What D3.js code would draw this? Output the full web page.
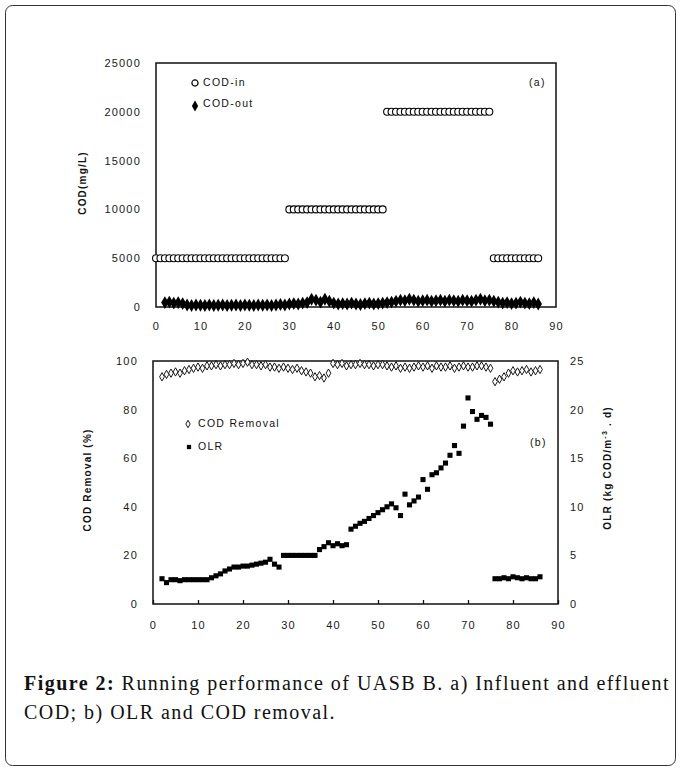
<!DOCTYPE html>
<html>
<head>
<meta charset="utf-8">
<script src="https://cdn.jsdelivr.net/npm/d3@7"></script>
<style>
  body { margin: 0; background: #fff; }
  .tick text { font-family: "Liberation Sans", Arial, sans-serif; font-size: 11px; fill: #1a1a1a; letter-spacing: 1.2px; }
  .ax-title { font-family: "Liberation Sans", Arial, sans-serif; font-size: 10px; font-weight: bold; fill: #111; letter-spacing: 1.2px; }
  .legend { font-family: "Liberation Sans", Arial, sans-serif; font-size: 10.5px; fill: #111; letter-spacing: 1.3px; }
  .caption { font-family: "Liberation Serif", "Times New Roman", serif; font-size: 20px; fill: #111; }
</style>
</head>
<body>
<svg id="fig" width="680" height="773"></svg>
<script>
// ---- data ----
// panel (a): influent COD, days 0..86
var daysIn = [0,1,2,3,4,5,6,7,8,9,10,11,12,13,14,15,16,17,18,19,20,21,22,23,24,25,26,27,28,29,
  30,31,32,33,34,35,36,37,38,39,40,41,42,43,44,45,46,47,48,49,50,51,52,53,54,55,56,57,58,59,
  60,61,62,63,64,65,66,67,68,69,70,71,72,73,74,75,76,77,78,79,80,81,82,83,84,85,86];
var codIn = [5000,5000,5000,5000,5000,5000,5000,5000,5000,5000,5000,5000,5000,5000,5000,
  5000,5000,5000,5000,5000,5000,5000,5000,5000,5000,5000,5000,5000,5000,5000,
  10000,10000,10000,10000,10000,10000,10000,10000,10000,10000,10000,
  10000,10000,10000,10000,10000,10000,10000,10000,10000,10000,10000,
  20000,20000,20000,20000,20000,20000,20000,20000,20000,20000,20000,20000,
  20000,20000,20000,20000,20000,20000,20000,20000,20000,20000,20000,20000,
  5000,5000,5000,5000,5000,5000,5000,5000,5000,5000,5000];

// days 2..86 for effluent COD, removal and OLR
var days = [2,3,4,5,6,7,8,9,10,11,12,13,14,15,16,17,18,19,20,21,22,23,24,25,26,27,28,29,
  30,31,32,33,34,35,36,37,38,39,40,41,42,43,44,45,46,47,48,49,50,51,52,53,54,55,56,57,58,59,
  60,61,62,63,64,65,66,67,68,69,70,71,72,73,74,75,76,77,78,79,80,81,82,83,84,85,86];
var codOut = [450,500,400,450,350,
  200,150,200,180,150,200,150,180,200,150,180,200,150,200,180,150,200,180,200,150,200,250,200,
  300,350,300,400,450,
  800,700,500,800,600,
  400,300,350,300,400,300,250,350,400,300,350,400,450,
  500,600,700,650,800,700,600,650,700,600,650,700,600,700,650,600,700,650,600,700,800,650,700,600,
  500,400,450,350,400,500,400,350,450,300];
var removal = [93.5,94.5,95,95.5,95,96,96.5,97,97.5,97,
  98,98,98.5,98,98.5,98.5,99,98.5,99,99.5,
  98.5,98.5,98,98.5,97.5,97.5,97,97.5,97,96.5,
  97,96,95.5,95,93.5,94,93,95,99,98.5,
  99,98,98.5,98.5,99,98.5,98.5,98,98.5,98.5,
  98,97.5,98,97,97.5,97,97.5,98,97.5,98,
  97,98,97.5,97.5,98,97,97.5,98,97.5,97.5,
  98,98,97.5,97,91.5,92.5,93.5,95,96,95.5,
  96,96.5,95.5,96,96.5];
var olr = [2.6,2.2,2.5,2.5,2.4,2.5,2.5,2.5,2.5,2.5,
  2.5,2.7,2.9,3.1,3.4,3.6,3.8,3.8,3.9,3.9,
  4.0,4.1,4.2,4.3,4.6,4.1,3.8,5.0,5.0,5.0,
  5.0,5.0,5.0,5.0,5.0,5.6,5.9,6.3,6.0,6.2,
  6.0,6.1,7.7,8.0,8.3,8.5,8.8,9.1,9.4,9.7,
  10.0,10.3,9.9,9.1,11.3,10.2,10.6,11.0,12.8,11.8,
  13.3,13.5,14.0,14.5,15.3,16.3,15.5,18.3,21.2,19.8,
  19.0,19.4,19.2,18.5,2.6,2.6,2.7,2.6,2.8,2.7,
  2.6,2.7,2.6,2.6,2.8];

var xTicks = [0,10,20,30,40,50,60,70,80,90];
var codTicks = [0,5000,10000,15000,20000,25000];
var remTicks = [0,20,40,60,80,100];
var olrTicks = [0,5,10,15,20,25];

var svg = d3.select('#fig');
var plain = d3.format('d');

// outer frame of the figure box
svg.append('rect')
    .attr('x', 5.5).attr('y', 5.5)
    .attr('width', 670).attr('height', 760)
    .attr('rx', 7)
    .attr('fill', 'none')
    .attr('stroke', '#333')
    .attr('stroke-width', 1);

// ================= panel (a) =================
var xa = d3.scaleLinear().domain([0, 90]).range([156, 556]);
var ya = d3.scaleLinear().domain([0, 25000]).range([307, 63]);

var ga = svg.append('g');

ga.append('g')
    .attr('transform', 'translate(0,307)')
    .call(d3.axisBottom(xa).tickValues(xTicks).tickFormat(plain).tickSize(0).tickPadding(15))
    .call(g => g.select('.domain').remove());

ga.append('g')
    .attr('transform', 'translate(156,0)')
    .call(d3.axisLeft(ya).tickValues(codTicks).tickFormat(plain).tickSize(0).tickPadding(15))
    .call(g => g.select('.domain').remove());

ga.append('rect')
    .attr('x', 156).attr('y', 63)
    .attr('width', 400).attr('height', 244)
    .attr('fill', 'none')
    .attr('stroke', '#111')
    .attr('stroke-width', 1.5);

var circleSym = d3.symbol().type(d3.symbolCircle).size(38);
var diamondSym = d3.symbol().type(d3.symbolDiamond).size(48);

ga.selectAll('.cod-in')
    .data(daysIn.map((d, i) => ({x: d, y: codIn[i]})))
    .enter().append('path')
    .attr('d', circleSym)
    .attr('transform', d => `translate(${xa(d.x)},${ya(d.y)})`)
    .attr('fill', '#fff')
    .attr('stroke', '#000')
    .attr('stroke-width', 1.1);

ga.selectAll('.cod-out')
    .data(days.map((d, i) => ({x: d, y: codOut[i]})))
    .enter().append('path')
    .attr('d', diamondSym)
    .attr('transform', d => `translate(${xa(d.x)},${ya(d.y)})`)
    .attr('fill', '#000');

// legend (a)
ga.append('path').attr('d', d3.symbol().type(d3.symbolCircle).size(30))
    .attr('transform', 'translate(195,83)')
    .attr('fill', '#fff').attr('stroke', '#000').attr('stroke-width', 1.2);
ga.append('text').attr('class', 'legend')
    .attr('x', 203).attr('y', 86).text('COD-in');
ga.append('path').attr('d', d3.symbol().type(d3.symbolDiamond).size(34))
    .attr('transform', 'translate(195,106)')
    .attr('fill', '#000');
ga.append('text').attr('class', 'legend')
    .attr('x', 203).attr('y', 107).text('COD-out');
ga.append('text').attr('class', 'legend')
    .attr('x', 529).attr('y', 86).text('(a)');

ga.append('text').attr('class', 'ax-title')
    .attr('transform', 'translate(86,183) rotate(-90)')
    .attr('text-anchor', 'middle')
    .text('COD(mg/L)');

// ================= panel (b) =================
var xb = d3.scaleLinear().domain([0, 90]).range([153, 558]);
var yl = d3.scaleLinear().domain([0, 100]).range([604, 361]);
var yr = d3.scaleLinear().domain([0, 25]).range([604, 361]);

var gb = svg.append('g');

gb.append('g')
    .attr('transform', 'translate(0,604)')
    .call(d3.axisBottom(xb).tickValues(xTicks).tickFormat(plain).tickSizeInner(-4).tickSizeOuter(0).tickPadding(17))
    .call(g => g.select('.domain').remove())
    .call(g => g.selectAll('.tick line').attr('stroke', '#111').attr('stroke-width', 1.3));

gb.append('g')
    .attr('transform', 'translate(153,0)')
    .call(d3.axisLeft(yl).tickValues(remTicks).tickFormat(plain).tickSize(0).tickPadding(15))
    .call(g => g.select('.domain').remove());

gb.append('g')
    .attr('transform', 'translate(558,0)')
    .call(d3.axisRight(yr).tickValues(olrTicks).tickFormat(plain).tickSize(0).tickPadding(12))
    .call(g => g.select('.domain').remove());

gb.append('rect')
    .attr('x', 153).attr('y', 361)
    .attr('width', 405).attr('height', 243)
    .attr('fill', 'none')
    .attr('stroke', '#111')
    .attr('stroke-width', 1.5);

var smallDiamond = d3.symbol().type(d3.symbolDiamond).size(20);
var squareSym = d3.symbol().type(d3.symbolSquare).size(26);

gb.selectAll('.removal')
    .data(days.map((d, i) => ({x: d, y: removal[i]})))
    .enter().append('path')
    .attr('d', smallDiamond)
    .attr('transform', d => `translate(${xb(d.x)},${yl(d.y)})`)
    .attr('fill', '#fff')
    .attr('stroke', '#000')
    .attr('stroke-width', 0.9);

gb.selectAll('.olr')
    .data(days.map((d, i) => ({x: d, y: olr[i]})))
    .enter().append('path')
    .attr('d', squareSym)
    .attr('transform', d => `translate(${xb(d.x)},${yr(d.y)})`)
    .attr('fill', '#000');

// legend (b)
gb.append('path').attr('d', d3.symbol().type(d3.symbolDiamond).size(16))
    .attr('transform', 'translate(188,424)')
    .attr('fill', '#fff').attr('stroke', '#000').attr('stroke-width', 0.9);
gb.append('text').attr('class', 'legend')
    .attr('x', 198).attr('y', 427).text('COD Removal');
gb.append('path').attr('d', d3.symbol().type(d3.symbolSquare).size(18))
    .attr('transform', 'translate(189,447)')
    .attr('fill', '#000');
gb.append('text').attr('class', 'legend')
    .attr('x', 198).attr('y', 450).text('OLR');
gb.append('text').attr('class', 'legend')
    .attr('x', 530).attr('y', 446).text('(b)');

gb.append('text').attr('class', 'ax-title')
    .attr('transform', 'translate(91,480) rotate(-90)')
    .attr('text-anchor', 'middle')
    .text('COD Removal (%)');

var rt = gb.append('text').attr('class', 'ax-title')
    .attr('transform', 'translate(611,468) rotate(-90)')
    .attr('text-anchor', 'middle');
rt.append('tspan').text('OLR (kg COD/m');
rt.append('tspan').attr('dy', -4).attr('font-size', '7px').text('-3');
rt.append('tspan').attr('dy', 4).text(' . d)');

// ================= caption =================
var cap = svg.append('g');
var line1 = cap.append('text').attr('class', 'caption')
    .attr('x', 24).attr('y', 690);
line1.append('tspan').attr('font-weight', 'bold').text('Figure 2:');
line1.append('tspan').text(' Running performance of UASB B. a) Influent and effluent');

var line2 = cap.append('text').attr('class', 'caption')
    .attr('x', 24).attr('y', 719)
    .text('COD; b) OLR and COD removal.');

// stretch spacing so line 1 fills the box width as in the source
var natural = line1.node().getComputedTextLength();
var nChars = 'Figure 2: Running performance of UASB B. a) Influent and effluent'.length;
var ls = Math.max(0, (646 - natural) / nChars);
line1.style('letter-spacing', ls + 'px');
line2.style('letter-spacing', ls + 'px');
</script>
</body>
</html>
